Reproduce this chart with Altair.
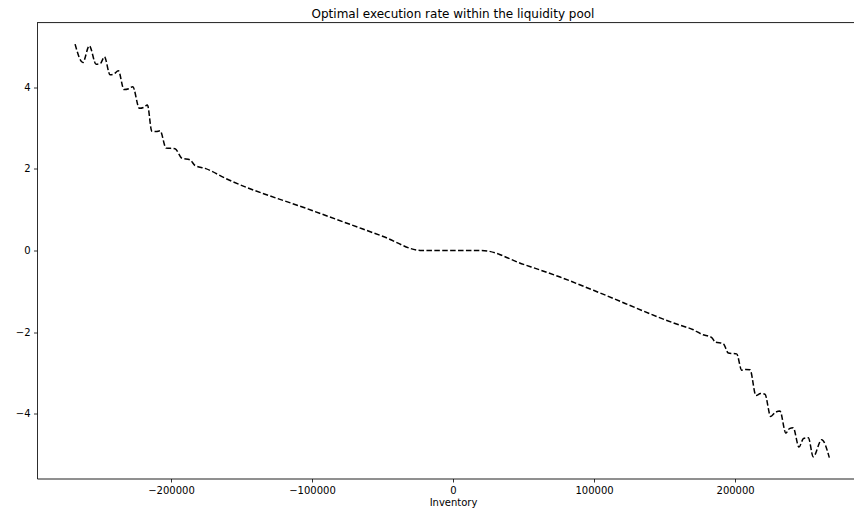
import altair as alt
import pandas as pd

inventory = [
    -268000, -262500, -257900, -253100, -250000, -247200, -243200, -240500, -237300,
    -233300, -230000, -227100, -222400, -219500, -216700, -213600, -210500, -207700,
    -203500, -197100, -192300, -186500, -182900, -175800, -160400, -100000, -50000,
    -22200, 20300, 50000, 75900, 100000, 161000, 170400, 176300, 183400, 185800,
    191600, 195200, 201100, 204700, 207700, 210600, 214800, 218000, 221200, 225200,
    228500, 231800, 236000, 238500, 241200, 245300, 248500, 251900, 255400, 261400, 266800,
]
rate = [
    5.05, 4.60, 5.01, 4.56, 4.58, 4.74, 4.30, 4.32, 4.40,
    3.94, 3.96, 4.01, 3.48, 3.50, 3.56, 2.92, 2.91, 2.93,
    2.51, 2.49, 2.26, 2.22, 2.08, 2.01, 1.75, 0.98, 0.35,
    0.0, 0.0, -0.34, -0.65, -0.98, -1.83, -1.94, -2.05, -2.13, -2.24,
    -2.28, -2.51, -2.53, -2.93, -2.91, -2.92, -3.55, -3.50, -3.52, -4.06,
    -3.96, -3.93, -4.47, -4.36, -4.34, -4.81, -4.60, -4.58, -5.05, -4.63, -5.07,
]

df = pd.DataFrame({"Inventory": inventory, "Rate": rate})

FONT = "DejaVu Sans"
W, H = 817, 456

line = alt.Chart(df).mark_line(
    color="black", strokeWidth=1.5, strokeDash=[5.5, 2.4], interpolate="monotone"
).encode(
    x=alt.X(
        "Inventory:Q",
        scale=alt.Scale(domain=[-295000, 284300], nice=False, zero=False),
        axis=alt.Axis(
            values=[-200000, -100000, 0, 100000, 200000], format="d", grid=False,
            tickSize=3.5, tickColor="black", domainColor="black", domainWidth=0.8,
            tickWidth=0.8, labelPadding=3.5, labelFont=FONT, labelFontSize=10,
            labelColor="black", title="Inventory", titleFont=FONT, titleFontSize=10,
            titleFontWeight="normal", titleColor="black", titlePadding=2, titleX=416,
        ),
    ),
    y=alt.Y(
        "Rate:Q",
        scale=alt.Scale(domain=[-5.58, 5.58], nice=False, zero=False),
        axis=alt.Axis(
            values=[-4, -2, 0, 2, 4], format="d", grid=False, tickSize=3.5,
            tickColor="black", domainColor="black", domainWidth=0.8, tickWidth=0.8,
            labelPadding=3.5, labelFont=FONT, labelFontSize=10, labelColor="black",
            title=None,
        ),
    ),
)

top_spine = alt.Chart(pd.DataFrame({"k": [0]})).mark_rule(
    color="black", strokeWidth=0.8
).encode(x=alt.value(0), x2=alt.value(W), y=alt.value(0))

chart = alt.layer(line, top_spine).properties(
    width=W,
    height=H,
    autosize=alt.AutoSizeParams(type="none"),
    padding={"left": 29, "top": 14.5, "right": 0, "bottom": 35.5},
    title=alt.TitleParams(
        "Optimal execution rate within the liquidity pool",
        font=FONT, fontSize=12, fontWeight="normal", color="black",
        anchor="middle", dx=7.5, offset=1,
    ),
).configure_view(stroke=None).configure(background="white")

chart.save("out.html", embed_options={"renderer": "svg", "actions": False})
